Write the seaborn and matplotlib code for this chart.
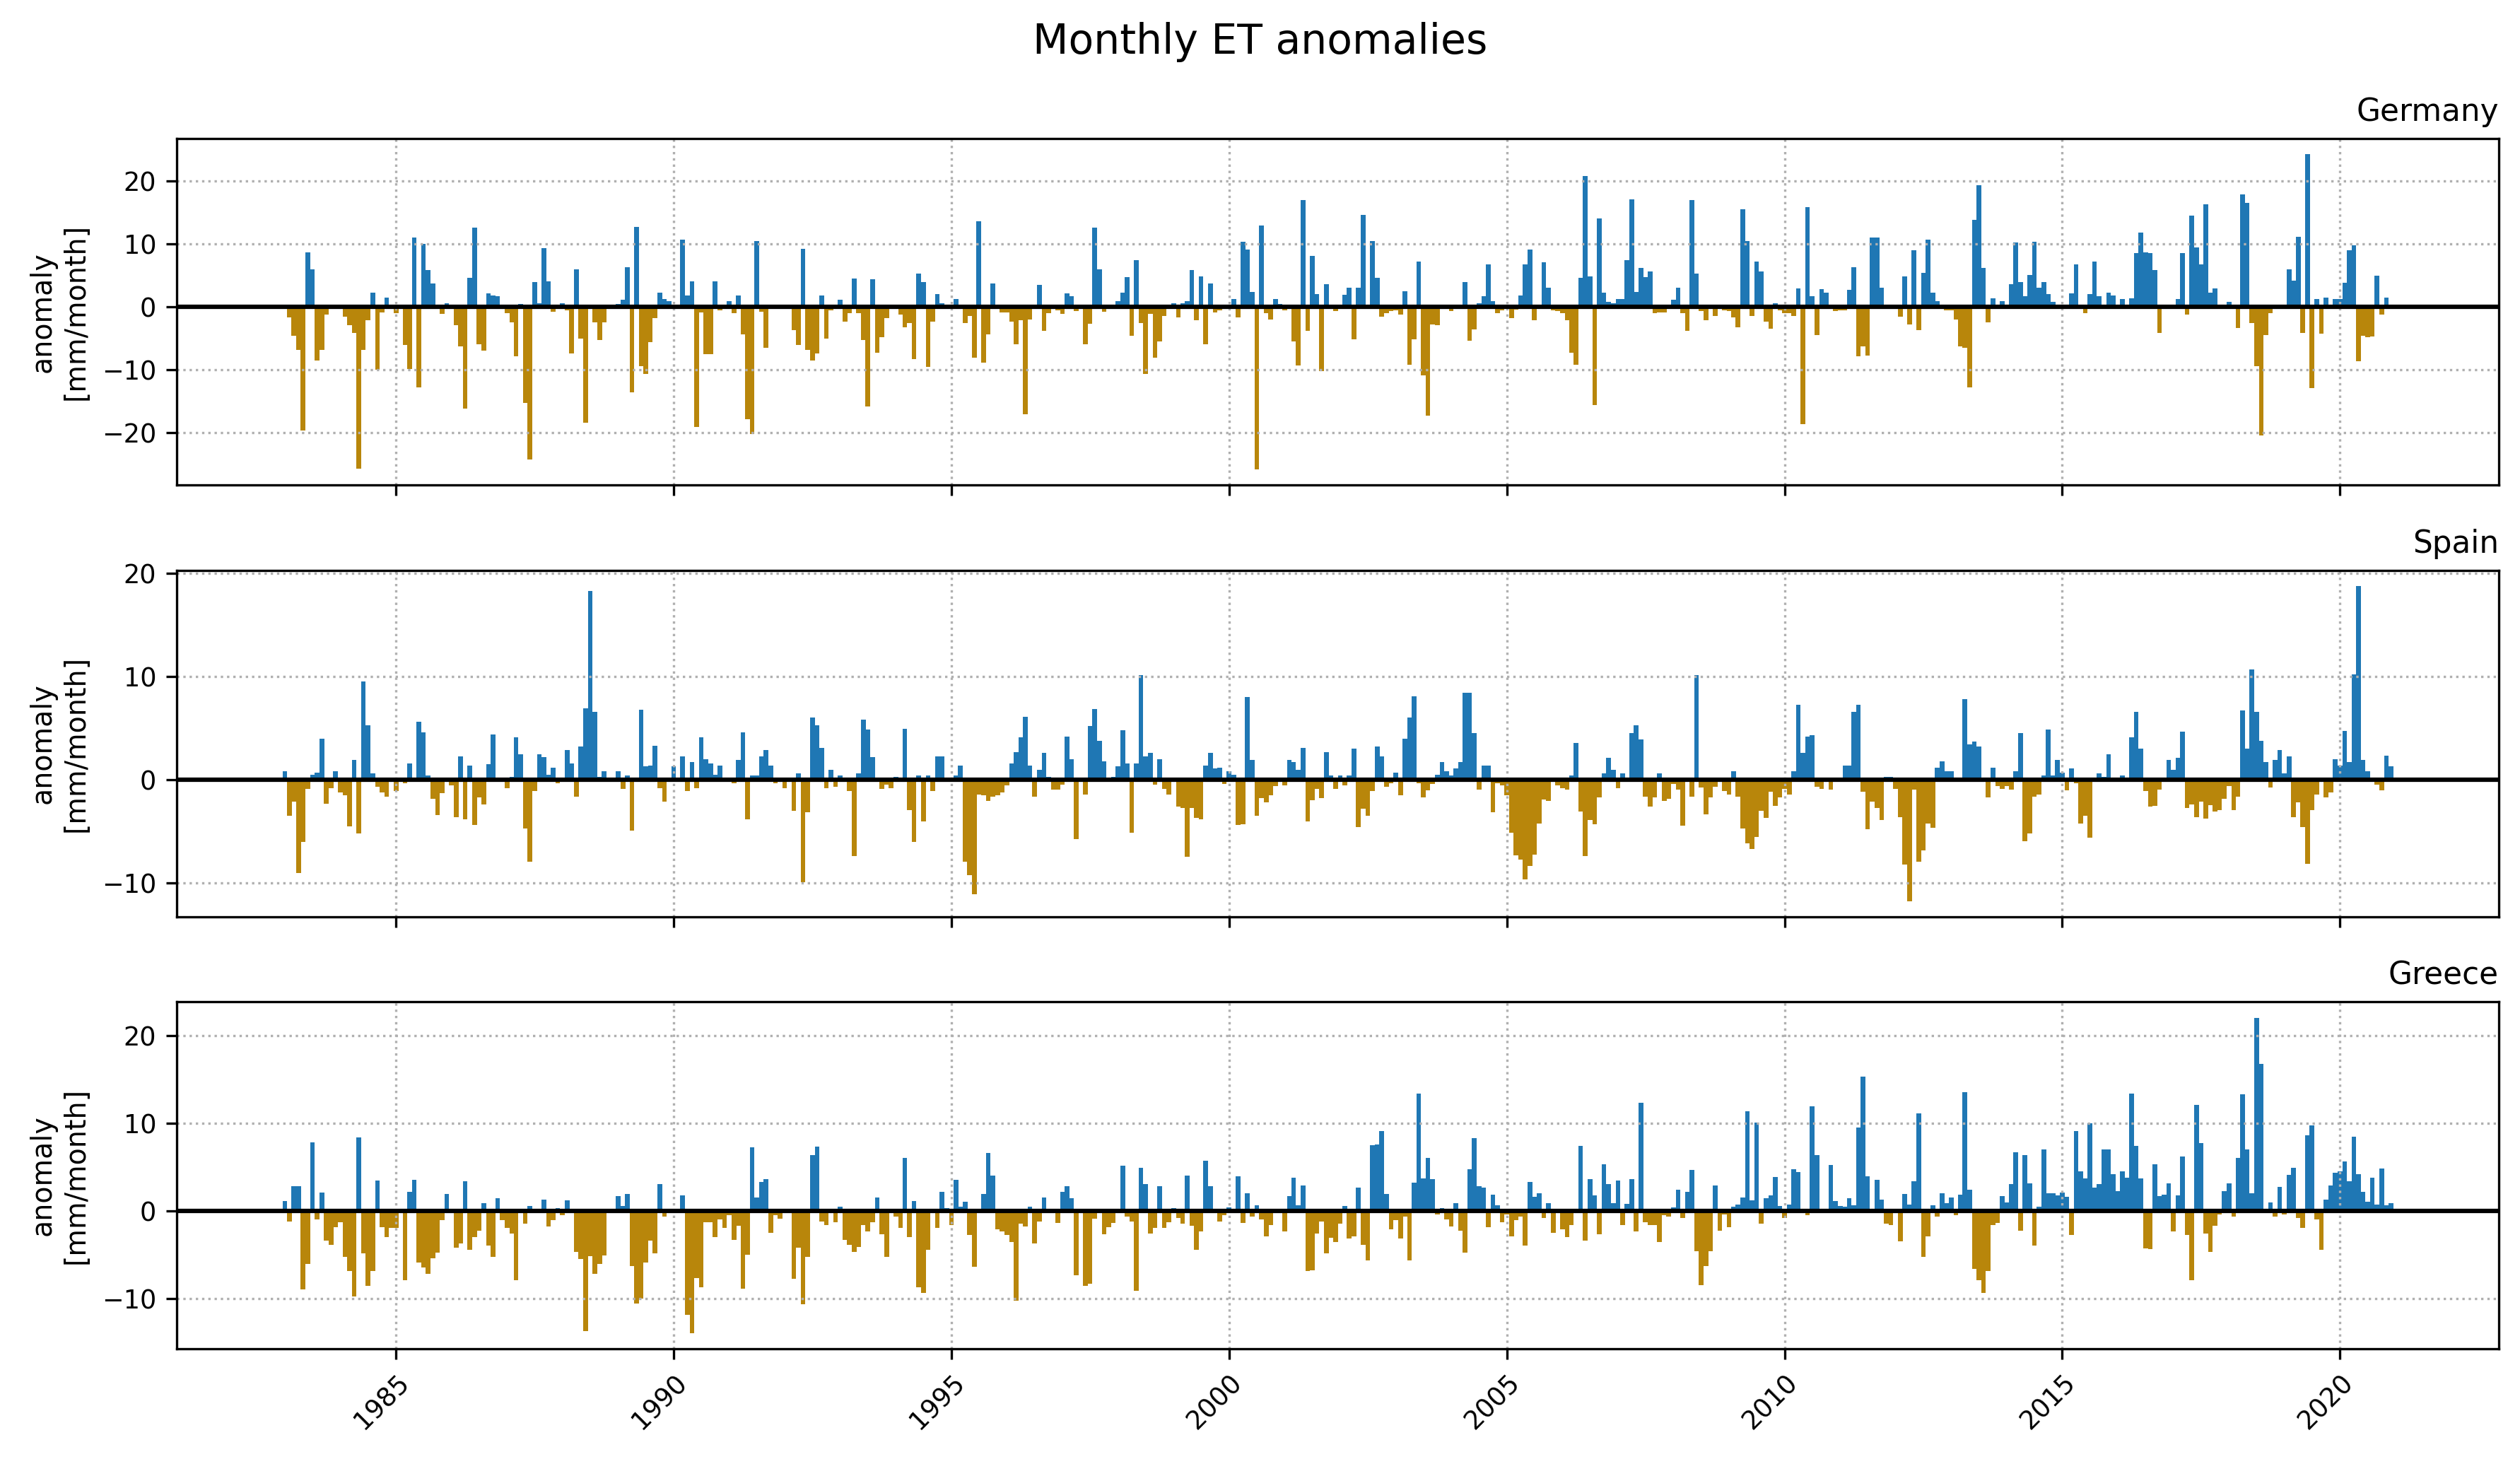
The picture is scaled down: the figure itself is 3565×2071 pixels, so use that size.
import numpy as np
import pandas as pd
import matplotlib
matplotlib.use("Agg")
import matplotlib.pyplot as plt
import matplotlib.dates as mdates
import seaborn as sns

# monthly time axis, Jan 1983 .. Dec 2020
months = pd.date_range("1983-01-01", "2020-12-01", freq="MS")
countries = ["Germany", "Spain", "Greece"]

# ET anomalies [mm/month], one row per year (Jan..Dec)
germany = [
    0.0, -1.7, -4.6, -6.9, -19.7, 8.7, 6.0, -8.6, -6.8, -1.2, 0.2, 0.1,
    -0.3, -1.6, -2.9, -4.1, -25.8, -6.9, -2.1, 2.3, -10.0, -0.9, 1.5, 0.1,
    -1.0, 0.1, -6.1, -9.9, 11.0, -12.8, 10.0, 5.9, 3.7, 0.2, -1.1, 0.6,
    0.1, -2.9, -6.3, -16.2, 4.6, 12.6, -5.9, -7.0, 2.1, 1.8, 1.7, 0.1,
    -1.0, -2.5, -7.9, 0.5, -15.3, -24.3, 3.9, 0.6, 9.3, 4.1, -0.8, 0.1,
    0.6, -0.5, -7.4, 6.0, -5.0, -18.5, 0.4, -2.5, -5.3, -2.5, 0.1, -0.1,
    0.5, 1.1, 6.3, -13.6, 12.7, -9.5, -10.7, -5.6, -1.8, 2.3, 1.2, 0.9,
    0.4, 0.3, 10.7, 1.8, 4.1, -19.1, -0.9, -7.5, -7.5, 4.1, -0.6, 0.2,
    0.9, -1.0, 1.8, -4.4, -17.9, -20.3, 10.5, -0.8, -6.5, 0.2, -0.3, 0.1,
    0.3, -0.2, -3.7, -6.1, 9.2, -6.8, -8.6, -7.4, 1.8, -5.0, -0.6, 0.1,
    1.1, -2.3, -1.0, 4.5, -1.0, -5.3, -15.9, 4.4, -7.3, -4.8, -1.8, 0.1,
    -0.2, -1.2, -3.3, -2.6, -8.3, 5.3, 3.9, -9.6, -2.4, 2.0, 0.6, 0.4,
    0.1, 1.2, -0.2, -2.6, -1.4, -8.1, 13.6, -8.9, -4.4, 3.7, -0.3, -0.9,
    -0.9, -2.3, -5.9, -2.1, -17.1, -2.0, 0.1, 3.5, -3.8, -1.0, 0.1, -0.6,
    -1.1, 2.2, 1.7, -0.7, 0.1, -6.0, -2.7, 12.6, 6.0, -0.8, 0.1, 0.2,
    0.9, 2.3, 4.7, -4.6, 7.4, -2.6, -10.7, -1.1, -8.1, -5.5, -1.5, 0.1,
    0.6, -1.7, 0.6, 0.9, 5.9, -2.1, 4.9, -5.9, 3.7, -0.9, -0.6, 0.1,
    0.2, 1.3, -1.7, 10.4, 9.1, 2.4, -25.9, 12.9, -1.0, -2.0, 1.3, 0.5,
    -0.5, 0.4, -5.5, -9.3, 17.0, -3.8, 8.1, 2.0, -10.2, 3.6, 0.1, -0.7,
    0.1, 1.9, 3.0, -5.2, 3.0, 14.6, 0.1, 10.5, 4.6, -1.6, -1.0, -0.7,
    -0.6, -1.2, 2.5, -9.2, -5.2, 7.2, -10.9, -17.3, -2.8, -2.9, 0.1, 0.2,
    -0.7, 0.1, 0.2, 4.0, -5.4, -3.6, 0.6, 1.7, 6.8, 0.9, -1.0, -0.6,
    0.1, -1.8, -0.4, 1.8, 6.8, 9.1, -2.1, 0.1, 7.1, 3.1, -0.5, -0.7,
    -1.0, -2.1, -7.3, -9.2, 4.6, 20.8, 4.9, -15.6, 14.1, 2.3, 0.8, 0.6,
    1.3, 1.2, 7.4, 17.1, 2.4, 6.2, 4.7, 5.6, -1.0, -0.9, -0.9, 0.1,
    1.1, 3.0, -1.0, -3.8, 17.0, 5.3, -0.7, -2.1, 0.1, -1.5, 0.2, -0.5,
    -0.7, -1.7, -3.2, 15.5, 10.5, -1.5, 7.2, 5.6, -2.3, -3.5, 0.6, -0.5,
    -1.0, -1.0, -1.4, 2.9, -18.7, 15.9, 1.7, -4.5, 2.8, 2.3, 0.1, -0.7,
    -0.6, -0.5, 2.7, 6.3, -7.9, -6.3, -7.7, 11.0, 11.0, 3.0, 0.1, 0.2,
    0.1, -1.6, 4.9, -2.8, 9.0, -3.7, 5.4, 10.7, 2.3, 0.9, 0.1, -0.5,
    -0.5, -2.0, -6.3, -6.5, -12.8, 13.9, 19.4, 6.2, -2.5, 1.4, 0.1, 0.9,
    0.4, 3.6, 10.3, 4.0, 1.7, 5.1, 10.4, 3.0, 3.9, 2.0, 0.8, 0.1,
    0.4, 0.1, 2.2, 6.8, 0.3, -1.0, 2.0, 7.2, 1.7, 0.1, 2.3, 1.8,
    0.1, 1.3, 0.1, 1.4, 8.6, 11.8, 8.7, 8.6, 5.9, -4.1, 0.1, 0.1,
    0.1, 1.2, 8.6, -1.2, 14.5, 9.5, 6.8, 16.3, 2.3, 2.9, 0.1, 0.1,
    0.8, 0.1, -3.4, 17.9, 16.6, -2.6, -9.5, -20.5, -4.5, -1.0, 0.1, 0.1,
    0.1, 6.0, 4.2, 11.1, -4.1, 24.3, -12.9, 1.2, -4.3, 1.5, 0.1, 1.2,
    1.2, 3.8, 9.0, 9.8, -8.7, -4.6, -4.8, -4.7, 5.0, -1.2, 1.5, 0.1,
]

spain = [
    0.85, -3.5, -2.1, -9.0, -6.0, -0.9, 0.5, 0.7, 4.0, -2.3, -0.8, 0.85,
    -1.2, -1.5, -4.5, 1.9, -5.2, 9.5, 5.25, 0.6, -0.7, -1.2, -1.6, 0.1,
    -1.1, 0.1, -0.35, 1.55, 0.1, 5.6, 4.6, 0.45, -1.85, -3.4, -1.3, 0.1,
    -0.55, -3.6, 2.3, -3.8, 1.4, -4.4, -1.7, -2.4, 1.5, 4.4, 0.1, 0.1,
    -0.8, 0.3, 4.1, 2.5, -4.7, -7.9, -1.1, 2.5, 2.2, 0.5, 1.2, -0.35,
    0.1, 2.85, 1.55, -1.6, 3.25, 6.9, 18.3, 6.55, 0.25, 0.8, 0.1, 0.1,
    0.85, -0.9, 0.4, -4.9, 0.1, 6.75, 1.3, 1.4, 3.3, -0.8, -2.1, 0.1,
    1.3, 0.1, 2.3, -1.1, 1.7, -0.8, 4.1, 2.0, 1.6, 0.5, 1.4, 0.1,
    0.1, -0.35, 1.9, 4.6, -3.8, 0.45, 0.45, 2.3, 2.9, 1.4, -0.35, 0.1,
    -0.8, 0.1, -3.0, 0.6, -9.9, -3.15, 6.0, 5.3, 3.1, -0.8, 1.0, -0.7,
    0.4, 0.1, -1.1, -7.4, 0.6, 5.8, 4.85, 2.2, 0.1, -0.9, -0.5, -0.8,
    0.3, 0.1, 4.9, -2.9, -6.0, 0.4, -4.0, 0.4, -1.1, 2.3, 2.25, 0.1,
    0.1, 0.4, 1.35, -7.9, -9.2, -11.1, -1.4, -1.5, -2.05, -1.6, -1.5, -1.2,
    -0.55, 1.6, 2.65, 4.1, 6.1, 1.35, -1.6, 0.95, 2.6, 0.3, -0.95, -0.95,
    -0.5, 4.15, 2.0, -5.75, 0.1, -1.4, 5.2, 6.85, 3.75, 1.8, 0.1, 0.25,
    1.3, 4.8, 1.6, -5.1, 1.55, 10.1, 2.25, 2.6, -0.5, 2.0, -0.9, -1.4,
    0.1, -2.6, -2.75, -7.45, -2.7, -3.7, -3.8, 1.35, 2.6, 1.1, 1.2, -0.4,
    0.85, 0.5, -4.4, -4.3, 8.0, 1.9, -3.5, -1.8, -2.2, -1.5, -0.6, 0.1,
    -0.55, 1.95, 1.75, 0.95, 3.1, -4.0, -2.0, -0.9, -1.8, 2.7, 0.45, -0.9,
    0.45, -0.55, 0.45, 3.0, -4.6, -2.8, -3.5, -1.1, 3.25, 2.3, -0.7, -0.3,
    0.7, -1.5, 4.0, 6.0, 8.1, -0.3, -1.7, -1.0, -0.4, 0.5, 1.75, 0.85,
    0.4, 1.1, 1.7, 8.45, 8.4, 4.5, -0.95, 1.35, 1.35, -3.15, -0.35, -0.55,
    -1.5, -5.1, -7.3, -7.7, -9.65, -8.3, -7.25, -4.2, -1.9, -2.05, 0.1, -0.55,
    -0.8, -0.95, 0.4, 3.6, -3.1, -7.4, -3.9, -4.3, -1.7, 0.65, 2.1, 1.0,
    -0.8, 0.6, 0.1, 4.5, 5.25, 3.9, -1.6, -2.6, -1.7, 0.65, -2.05, -1.85,
    -0.4, -0.95, -4.45, 0.1, -1.6, 10.1, -0.75, -3.35, -1.7, -0.7, 0.1, -1.1,
    -1.4, 0.85, -1.65, -4.7, -6.15, -6.7, -5.55, -3.0, -3.7, -1.15, -2.55, -1.7,
    -0.9, -1.45, 0.8, 7.25, 2.6, 4.2, 4.35, -0.7, -0.9, 0.1, -0.95, 0.1,
    0.1, 1.35, 1.35, 6.6, 7.25, -1.15, -4.8, -2.1, -2.7, -3.9, 0.3, 0.3,
    -0.9, -3.6, -8.2, -11.75, -0.95, -7.9, -6.8, -4.2, -4.65, 1.15, 1.8, 0.85,
    0.85, 0.1, 0.1, 7.8, 3.4, 3.7, 3.2, 0.1, -1.7, 1.15, -0.6, -0.9,
    -0.6, -0.95, 0.85, 4.55, -5.95, -5.2, -1.6, -1.4, 0.4, 4.85, 0.45, 1.95,
    0.7, -1.0, 1.1, -0.35, -4.2, -3.5, -5.6, 0.1, 0.6, 0.3, 2.45, 0.1,
    0.1, 0.4, 0.1, 4.1, 6.55, 3.0, -1.1, -2.6, -2.55, -0.95, 0.1, 1.9,
    1.0, 2.1, 4.65, -2.7, -2.4, -3.6, -2.1, -3.75, -2.45, -3.1, -2.9, -1.85,
    -0.6, -2.9, -1.6, 6.7, 3.0, 10.7, 6.55, 3.8, 1.75, -0.75, 1.95, 2.9,
    0.65, 2.25, -3.6, -2.2, -4.6, -8.15, -2.9, -1.45, 0.1, -1.7, -1.2, 2.0,
    1.4, 4.7, 1.7, 10.2, 18.75, 1.95, 0.8, 0.1, -0.5, -1.0, 2.35, 1.3,
]

greece = [
    1.1, -1.2, 2.8, 2.8, -8.95, -6.1, 7.8, -1.0, 2.1, -3.4, -3.9, -1.9,
    -1.3, -5.3, -6.9, -9.75, 8.35, -4.9, -8.6, -6.85, 3.45, -1.85, -3.0, -2.0,
    -2.0, -0.3, -7.9, 2.15, 3.5, -5.9, -6.5, -7.2, -5.4, -4.75, -1.1, 1.9,
    0.1, -4.2, -3.7, 3.35, -4.45, -3.0, -2.25, 0.85, -3.95, -5.25, 1.4, -1.05,
    -1.95, -2.6, -7.9, 0.1, -1.45, 0.55, 0.1, 0.1, 1.25, -1.8, -1.1, 0.3,
    -0.5, 1.2, -0.3, -4.7, -5.5, -13.7, -5.15, -7.2, -6.05, -5.1, 0.1, -0.1,
    1.65, 0.55, 1.9, -6.3, -10.55, -10.0, -5.95, -3.4, -4.85, 3.05, -0.7, 0.1,
    0.1, 0.1, 1.75, -11.85, -13.95, -7.65, -8.7, -1.3, -1.3, -3.0, -1.0, -2.0,
    -0.5, -3.3, -1.7, -8.9, -5.0, 7.25, 1.5, 3.3, 3.6, -2.5, -0.5, -0.9,
    0.1, 0.1, -7.75, -4.2, -10.7, -5.25, 6.35, 7.3, -1.2, -1.6, 0.1, -1.3,
    0.45, -3.3, -3.9, -4.7, -4.1, -1.6, -2.4, -1.3, 1.5, -2.7, -5.3, 0.1,
    -0.7, -1.95, 6.0, -3.05, 1.1, -8.7, -9.35, -4.5, 0.1, -2.0, 2.15, 0.3,
    -1.6, 3.5, 0.45, 1.0, -2.8, -6.4, 0.1, 1.9, 6.6, 4.0, -2.1, -2.35,
    -2.8, -3.6, -10.3, -1.45, -1.8, 0.45, -3.7, -1.2, 1.5, 0.1, -0.1, -1.4,
    2.15, 2.8, 1.4, -7.4, 0.1, -8.6, -8.3, -0.9, -0.3, -2.7, -1.85, -1.4,
    0.1, 5.1, -0.7, -1.2, -9.1, 4.85, 3.0, -2.6, -2.0, 2.8, -2.0, -1.3,
    0.3, -0.8, -1.45, 4.0, -1.7, -4.5, -2.35, 5.7, 2.8, -0.3, -1.2, -0.5,
    0.4, 0.1, 3.9, -1.4, 2.0, -0.65, 0.6, -1.0, -2.9, -1.6, 0.1, 0.1,
    -2.35, 1.65, 3.8, 0.6, 2.9, -6.9, -6.8, -2.6, -1.2, -4.9, -3.1, -3.6,
    -1.45, 0.55, -3.2, -2.9, 2.6, -3.9, -5.7, 7.5, 7.55, 9.1, 1.9, -2.1,
    -1.1, -3.2, -0.65, -5.65, 3.2, 13.35, 3.7, 6.0, 3.6, -0.4, 0.3, -1.0,
    -1.8, 0.85, -2.25, -4.75, 4.7, 8.3, 2.8, 2.6, -1.85, 1.8, 0.6, -1.3,
    -0.4, -2.9, -1.1, -0.7, -3.95, 3.3, 1.6, 2.0, -0.8, 0.85, -2.5, 0.1,
    -2.1, -3.0, -1.6, 0.1, 7.4, -3.4, 3.6, 1.75, -2.65, 5.3, 3.05, 0.85,
    3.45, -1.6, 0.8, 3.6, -2.4, 12.3, -1.3, -1.6, -1.6, -3.6, -0.5, -0.7,
    0.4, 2.4, -0.8, 2.15, 4.65, -4.6, -8.5, -6.3, -4.6, 2.9, -2.25, -0.4,
    -1.85, 0.45, 0.7, 1.5, 11.35, 1.2, 10.05, -1.5, 1.4, 1.75, 3.85, 0.55,
    -0.8, 0.7, 4.7, 4.4, 0.1, -0.5, 11.9, 6.35, 0.1, 0.1, 5.2, 1.1,
    0.55, 0.45, 1.4, 0.6, 9.5, 15.3, 3.9, 0.1, 3.5, 1.25, -1.5, -1.6,
    0.1, -3.5, 1.9, 0.7, 3.35, 11.1, -5.3, -2.9, 0.6, -0.7, 2.0, 0.85,
    1.5, -0.5, 1.8, 13.5, 2.4, -6.6, -7.9, -9.35, -6.9, -1.6, -1.4, 1.65,
    0.95, 3.05, 6.65, -2.25, 6.35, 3.1, -3.95, 0.45, 7.0, 2.0, 2.0, 1.75,
    2.05, 1.6, -2.8, 9.1, 4.5, 3.7, 9.95, 2.6, 3.0, 7.0, 7.0, 4.15,
    2.2, 4.5, 3.75, 13.35, 7.4, 3.7, -4.3, -4.4, 5.3, 1.65, 1.8, 3.1,
    -2.35, 1.75, 6.2, -2.8, -7.9, 12.05, 7.7, -2.6, -4.7, -1.7, -0.4, 2.2,
    3.1, -0.7, 6.0, 13.3, 7.0, 2.0, 22.0, 16.75, 0.1, 0.95, -0.65, 2.7,
    -0.4, 4.1, 4.9, -0.8, -1.95, 8.6, 9.7, -1.0, -4.45, 1.25, 2.9, 4.35,
    4.5, 5.6, 3.35, 8.45, 4.15, 2.15, 1.0, 3.75, 0.7, 4.8, 0.6, 0.85,
]

pos_color = "#1f77b4"
neg_color = "#b8860b"

sns.set_style("ticks", {
    "axes.edgecolor": "black", "axes.labelcolor": "black", "text.color": "black",
    "xtick.color": "black", "ytick.color": "black", "axes.axisbelow": "line",
    "grid.color": "#b0b0b0", "grid.linestyle": ":",
})
plt.rcParams["font.family"] = ["DejaVu Sans"]
plt.rcParams["font.size"] = 9
plt.rcParams["axes.linewidth"] = 0.8

data = pd.DataFrame({"date": months, "Germany": germany, "Spain": spain, "Greece": greece})

fig, axes = plt.subplots(3, 1, figsize=(3565 / 300, 2071 / 300), dpi=300, sharex=True)
fig.subplots_adjust(left=0.0702, right=0.9916, top=0.9054, bottom=0.0787, hspace=0.245)

for ax, name in zip(axes, countries):
    vals = data[name].to_numpy()
    colors = np.where(vals >= 0, pos_color, neg_color)
    ax.bar(data["date"], vals, width=31, color=colors, linewidth=0)
    ax.axhline(0, color="black", linewidth=1.5)
    ax.grid(True, linestyle=":", color="#b0b0b0", linewidth=0.8)
    ax.set_title(name, loc="right", fontsize=10.5)
    ax.set_ylabel("anomaly\n[mm/month]", fontsize=9.5)
    ax.tick_params(labelsize=8.8)

axes[-1].xaxis.set_major_locator(mdates.YearLocator(5))
axes[-1].xaxis.set_major_formatter(mdates.DateFormatter("%Y"))
plt.setp(axes[-1].get_xticklabels(), rotation=45, ha="right", rotation_mode="anchor")

fig.suptitle("Monthly ET anomalies", fontsize=14, y=0.985)
fig.savefig("out.png", dpi=300)
